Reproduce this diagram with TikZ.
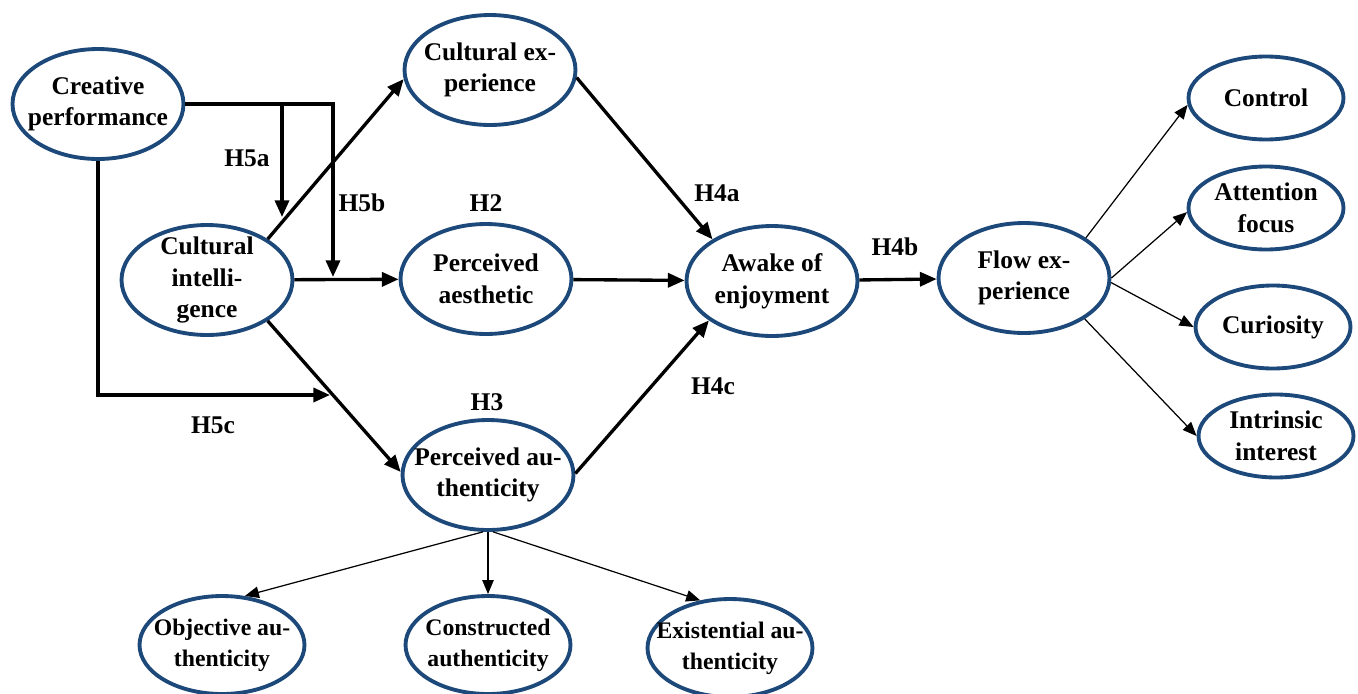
\documentclass[tikz,border=0pt]{standalone}
\usepackage{fontspec}
\setmainfont{Liberation Serif}
\usetikzlibrary{arrows.meta,shapes.geometric}
\definecolor{ovalblue}{RGB}{28,72,122}

\begin{document}
\begin{tikzpicture}[x=0.02cm, y=-0.02cm,
        oval text/.style={align=center, inner sep=0pt, font=\fontsize{14.5}{18}\selectfont\bfseries},
        oval/.style={ellipse, draw=ovalblue, line width=2.2pt, minimum width=3.42cm, minimum height=2.2cm, inner sep=0pt, label={[oval text]center:#1}},
        small oval/.style={oval={#1}, minimum width=3.1cm, minimum height=1.66cm},
        low oval/.style={ellipse, draw=ovalblue, line width=2.2pt, minimum width=3.3cm, minimum height=1.96cm, inner sep=0pt, label={[oval text, font=\fontsize{13.5}{17.5}\selectfont\bfseries]center:#1}},
        path arrow/.style={line width=1.9pt, -{Triangle[length=9.5pt,width=8pt]}},
        thin arrow/.style={line width=0.7pt, -{Triangle[length=8pt,width=6.5pt]}},
        hypo/.style={font=\fontsize{14.5}{18}\selectfont\bfseries}]
        \useasboundingbox (0,0) rectangle (1358,693);

        % constructs
        \node[oval={Creative\\performance}] (cp) at (98,104) {};
        \node[oval={Cultural\\intelli-\\gence}] (ci) at (207,280) {};
        \node[oval={Cultural ex-\\perience}] (ce) at (490,70) {};
        \node[oval={Perceived\\aesthetic}] (pa) at (486,279) {};
        \node[oval={Perceived au-\\thenticity}] (pau) at (488,475) {};
        \node[oval={Awake of\\enjoyment}] (aw) at (772,281) {};
        \node[oval={Flow ex-\\perience}] (flow) at (1024,278) {};

        % flow dimensions
        \node[small oval={Control}] (control) at (1266,98) {};
        \node[small oval={Attention\\focus}] (attention) at (1266,208) {};
        \node[small oval={Curiosity}] (curiosity) at (1273,327) {};
        \node[small oval={Intrinsic\\interest}] (intrinsic) at (1276,436) {};

        % authenticity dimensions
        \node[low oval={Objective au-\\thenticity}] (objective) at (222,645) {};
        \node[low oval={Constructed\\authenticity}] (constructed) at (488,645) {};
        \node[low oval={Existential au-\\thenticity}] (existential) at (730,648) {};

        % hypotheses
        \node[hypo] (H5a) at (247,158) {H5a};
        \node[hypo] (H5b) at (362,203) {H5b};
        \node[hypo] (H5c) at (213,425) {H5c};
        \node[hypo] (H2) at (486,203) {H2};
        \node[hypo] (H3) at (487,402) {H3};
        \node[hypo] (H4a) at (717,193) {H4a};
        \node[hypo] (H4b) at (895,247) {H4b};
        \node[hypo] (H4c) at (713,386) {H4c};

        % main paths
        \draw[path arrow] (ci.34) -- (ce.186);
        \draw[path arrow] (ci) -- (pa);
        \draw[path arrow] (ci.-34) -- (pau.178);
        \draw[path arrow] (ce.-5) -- (aw.145);
        \draw[path arrow] (pa) -- (aw);
        \draw[path arrow] (pau.1) -- (aw.212);
        \draw[path arrow] (aw) -- (flow);

        % moderating paths
        \coordinate (h5atip) at (282,217);
        \coordinate (h5btip) at (333,277);
        \coordinate (h5ctip) at (330,395);
        \draw[path arrow] (cp.east) -| (h5btip);
        \draw[path arrow] (cp.east -| h5atip) -- (h5atip);
        \draw[path arrow] (cp.south) |- (h5ctip);

        % dimensions
        \draw[thin arrow] (flow.33) -- (control.185);
        \draw[thin arrow] (flow.0) -- (attention.183);
        \draw[thin arrow] (flow.-3) -- (curiosity.west);
        \draw[thin arrow] (flow.-34) -- (intrinsic.west);
        \draw[thin arrow] (pau.-95) -- (objective.65);
        \draw[thin arrow] (pau.south) -- (constructed.north);
        \draw[thin arrow] (pau.-85) -- (existential.122);
    \end{tikzpicture}
\end{document}
